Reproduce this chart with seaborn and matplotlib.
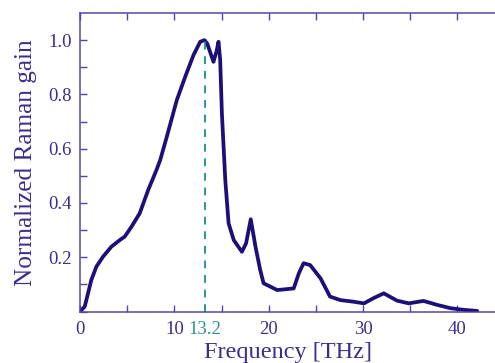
import matplotlib
matplotlib.use("Agg")
import matplotlib.pyplot as plt
import seaborn as sns
import pandas as pd

freq = [0.0, 0.5, 0.85, 1.2, 1.73, 2.44, 3.33, 4.21, 4.74, 5.45, 6.33, 7.22, 8.1, 8.5,
        9.2, 10.26, 11.15, 12.03, 12.74, 13.2, 13.5, 14.15, 14.5, 14.68, 14.86, 15.04,
        15.4, 15.75, 16.3, 17.16, 17.6, 18.1, 18.6, 19.1, 19.46, 20.9, 22.65, 23.2, 23.7,
        24.4, 25.5, 26.5, 27.6, 29.0, 30.1, 31.1, 32.2, 33.6, 34.85, 36.4, 37.9, 39.3,
        40.7, 42.1]
gain = [0.0, 0.018, 0.067, 0.116, 0.165, 0.202, 0.239, 0.263, 0.276, 0.312, 0.362, 0.447,
        0.521, 0.558, 0.644, 0.779, 0.865, 0.945, 0.994, 1.0, 0.986, 0.92, 0.963, 0.994,
        0.926, 0.73, 0.484, 0.325, 0.263, 0.22, 0.251, 0.34, 0.239, 0.153, 0.104, 0.079,
        0.085, 0.141, 0.178, 0.171, 0.122, 0.055, 0.042, 0.036, 0.030, 0.049, 0.067, 0.040,
        0.030, 0.039, 0.024, 0.012, 0.006, 0.002]
peak_freq = 13.2
peak_gain = 1.0
x_tick_labels = ["0", "", "10", "", "20", "", "30", "", "40"]
y_tick_labels = ["", "", "0.2", "", "0.4", "", "0.6", "", "0.8", "", "1.0"]

sns.set_style("white")
plt.rcParams["font.family"] = ["Liberation Serif", "DejaVu Serif"]

text_c = "#3b2d8c"
spine_c = "#5546a6"
line_c = "#1c0f78"
teal = "#2a968c"

fig = plt.figure(figsize=(4.95, 3.63), dpi=100)
ax = fig.add_axes([80 / 495, 1 - 311.5 / 363, (497 - 80) / 495, (311.5 - 13) / 363])

df = pd.DataFrame({"f": freq, "g": gain})
sns.lineplot(data=df, x="f", y="g", ax=ax, color=line_c, linewidth=2.7, sort=False)
for ln in ax.lines:
    ln.set_solid_joinstyle("round")
    ln.set_solid_capstyle("round")
ax.plot([peak_freq, peak_freq], [0, peak_gain], color=teal, linestyle=(0, (4, 3.5)), linewidth=1.4)

ax.set_xlim(0, 44.2)
ax.set_ylim(0, 1.1)
ax.set_xticks([0, 5, 10, 15, 20, 25, 30, 35, 40])
ax.set_xticklabels(x_tick_labels)
ax.set_yticks([i / 10 for i in range(11)])
ax.set_yticklabels(y_tick_labels)
ax.tick_params(axis="both", direction="in", length=5, width=1.0, color=spine_c,
               labelcolor=text_c, labelsize=13.5, top=True, bottom=True, left=True, right=False)
ax.tick_params(axis="x", pad=7)
ax.tick_params(axis="y", pad=6)
ax.text(peak_freq, -0.035, "13.2", color=teal, fontsize=13.5, ha="center", va="top",
        transform=ax.transData)

for s in ["left", "bottom", "top"]:
    ax.spines[s].set_color(spine_c)
    ax.spines[s].set_linewidth(1.1)
ax.spines["right"].set_visible(False)

ax.set_xlabel("Frequency [THz]", color=text_c, fontsize=17.5, labelpad=3)
ax.set_ylabel("Normalized Raman gain", color=text_c, fontsize=18.2, labelpad=8)

fig.savefig("out.png", dpi=100)
